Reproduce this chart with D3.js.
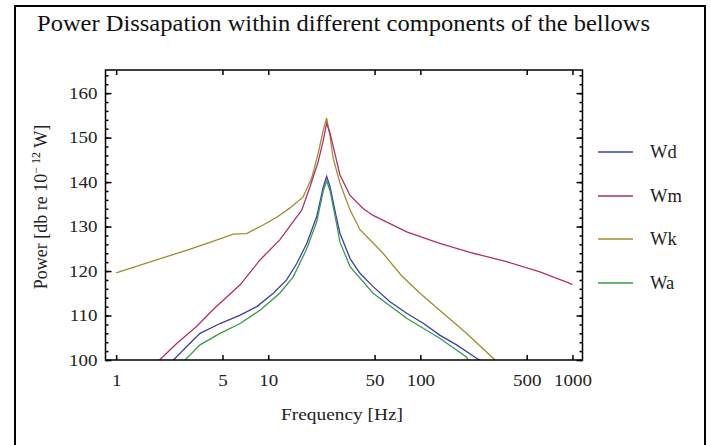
<!DOCTYPE html>
<html><head><meta charset="utf-8">
<script src="https://cdn.jsdelivr.net/npm/d3@7/dist/d3.min.js"></script>
<style>
body{margin:0;background:#fff;}
svg{display:block;font-family:"Liberation Serif","DejaVu Serif",serif;}
</style></head>
<body><svg id="c" width="711" height="445"></svg>
<script>
const seriesNames = ["Wd","Wm","Wk","Wa"];
const seriesColors = ["#3e3eaa","#b0306e","#a08c2c","#3a9a4e"];

const freqWd = [2.2, 2.38, 3.0, 3.56, 4.82, 6.53, 8.4, 10.8, 13.2, 15.4, 17.9, 20.8, 23, 24.2, 25.5, 28, 29.6, 32.7, 34.5, 40.1, 48.9, 63.1, 81.3, 105, 134, 173, 234, 260];
const dbWd   = [99, 100, 103.5, 106, 108.2, 110.1, 112, 115, 118, 121.7, 126.2, 132.2, 138.9, 141.3, 138.9, 132.2, 128.5, 124.8, 122.8, 119.5, 116.5, 113.1, 110.5, 108.2, 105.6, 103.4, 100.4, 99.5];

const freqWm = [1.8, 1.93, 2.5, 3.39, 4.36, 6.53, 8.83, 11.9, 14.6, 16.6, 18.8, 21.3, 23, 24.2, 25.5, 29.6, 34.5, 42.2, 48.9, 81.3, 134, 223, 369, 611, 1000];
const dbWm   = [99, 100, 103.7, 107.6, 111.4, 116.9, 122.5, 127, 131.1, 133.7, 138.9, 144.6, 149.4, 153.2, 151, 141.6, 137, 134, 132.5, 128.8, 126.2, 124, 122.1, 119.8, 117];

const freqWk = [1, 2, 3, 4, 5.9, 7.2, 9.2, 11.5, 13.9, 16.9, 19.3, 21.3, 23, 24.2, 25.5, 26.7, 29.6, 34.5, 40.1, 48.9, 56.8, 75, 99.4, 134, 201, 301, 330];
const dbWk   = [119.6, 122.9, 124.8, 126.3, 128.3, 128.4, 130.3, 132.2, 134.2, 136.6, 140.9, 146.5, 151.7, 154.4, 150.2, 145.4, 139.8, 133.7, 129.3, 126.3, 124, 119, 115, 111.2, 106, 100.4, 99];

const freqWa = [2.7, 2.84, 3.56, 4.82, 6.53, 8.83, 11.9, 14.6, 17.9, 20.8, 23, 24.2, 25.5, 28, 29.6, 34.5, 48.9, 81.3, 134, 201, 206, 220];
const dbWa   = [99, 100, 103.4, 106, 108.2, 111.2, 115, 118.7, 125, 131, 138, 140.3, 138, 131, 126.5, 121, 115, 109.4, 104.9, 100.7, 100, 99];

const xTicks = [1, 5, 10, 50, 100, 500, 1000];
const yTicks = [100, 110, 120, 130, 140, 150, 160];
const yMinor = d3.range(100, 166, 2);

const svg = d3.select("#c");
const L = 105.5, R = 582.5, T = 70, B = 360;
const x = d3.scaleLog().domain([0.851, 1164]).range([L, R]);
const y = d3.scaleLinear().domain([100, 165.2]).range([B, T]);

function stretch(sel, k){
  sel.each(function(){
    const w = this.getComputedTextLength();
    if (w > 0) d3.select(this).attr("textLength", w*k).attr("lengthAdjust","spacingAndGlyphs");
  });
}

// outer border
svg.append("rect").attr("x",15).attr("y",6).attr("width",690).attr("height",460)
  .attr("fill","none").attr("stroke","#000").attr("stroke-width",2);

// title
const title = svg.append("text").attr("x",37).attr("y",31).attr("font-size",22.5).attr("fill","#111")
  .text("Power Dissapation within different components of the bellows");
title.attr("textLength",613).attr("lengthAdjust","spacingAndGlyphs");

svg.append("defs").append("clipPath").attr("id","clip").append("rect")
  .attr("x",L).attr("y",T).attr("width",R-L).attr("height",B-T);

// curves
const data = [[freqWd,dbWd],[freqWm,dbWm],[freqWk,dbWk],[freqWa,dbWa]];
const line = d3.line().x(d=>x(d[0])).y(d=>y(d[1]));
const order = [2,1,0,3];
order.forEach(i=>{
  const pts = data[i][0].map((f,k)=>[f,data[i][1][k]]);
  svg.append("path").attr("d",line(pts)).attr("fill","none")
    .attr("stroke",seriesColors[i]).attr("stroke-width",1.3)
    .attr("clip-path","url(#clip)");
});

// axes
function styleAxis(g){
  g.select(".domain").remove();
  g.selectAll(".tick line").attr("stroke","#000").attr("stroke-width",1.5);
  g.selectAll("text").attr("font-family","Liberation Serif, serif").attr("font-size",16.5).attr("fill","#222");
}
const gx = svg.append("g").attr("transform",`translate(0,${B})`)
  .call(d3.axisBottom(x).tickValues(xTicks).tickFormat(d3.format("d")).tickSizeInner(-5).tickSizeOuter(0).tickPadding(14))
  .call(styleAxis);
stretch(gx.selectAll("text"), 1.15);
svg.append("g").attr("transform",`translate(0,${T})`)
  .call(d3.axisTop(x).tickValues(xTicks).tickFormat("").tickSizeInner(-5).tickSizeOuter(0))
  .call(styleAxis);
svg.append("g").attr("transform",`translate(${L},0)`)
  .call(d3.axisLeft(y).tickValues(yMinor).tickFormat("").tickSizeInner(-3).tickSizeOuter(0))
  .call(styleAxis);
const gy = svg.append("g").attr("transform",`translate(${L},0)`)
  .call(d3.axisLeft(y).tickValues(yTicks).tickFormat(d3.format("d")).tickSizeInner(-6).tickSizeOuter(0).tickPadding(8))
  .call(styleAxis);
stretch(gy.selectAll("text"), 1.15);
svg.append("g").attr("transform",`translate(${R},0)`)
  .call(d3.axisRight(y).tickValues(yMinor).tickFormat("").tickSizeInner(-3).tickSizeOuter(0))
  .call(styleAxis);
svg.append("g").attr("transform",`translate(${R},0)`)
  .call(d3.axisRight(y).tickValues(yTicks).tickFormat("").tickSizeInner(-6).tickSizeOuter(0))
  .call(styleAxis);

// frame
svg.append("rect").attr("x",L).attr("y",T).attr("width",R-L).attr("height",B-T)
  .attr("fill","none").attr("stroke","#000").attr("stroke-width",1.5);

// axis labels
svg.append("text").attr("x",342).attr("y",420).attr("text-anchor","middle")
  .attr("font-size",17).attr("fill","#222").text("Frequency  [Hz]")
  .attr("textLength",122).attr("lengthAdjust","spacingAndGlyphs");
const yl = svg.append("text").attr("transform","translate(47,207) rotate(-90)")
  .attr("text-anchor","middle").attr("font-size",18).attr("fill","#222");
yl.append("tspan").text("Power [db re 10");
yl.append("tspan").attr("dy",-7).attr("font-size",12).text("− 12");
yl.append("tspan").attr("dy",7).text(" W]");

// legend
const legY = [152, 196, 239, 283];
seriesNames.forEach((n,i)=>{
  svg.append("line").attr("x1",598).attr("x2",633).attr("y1",legY[i]).attr("y2",legY[i])
    .attr("stroke",seriesColors[i]).attr("stroke-width",1.5);
  svg.append("text").attr("x",650).attr("y",legY[i]+6).attr("font-size",18.5).attr("fill","#222").text(n);
});
</script></body></html>
